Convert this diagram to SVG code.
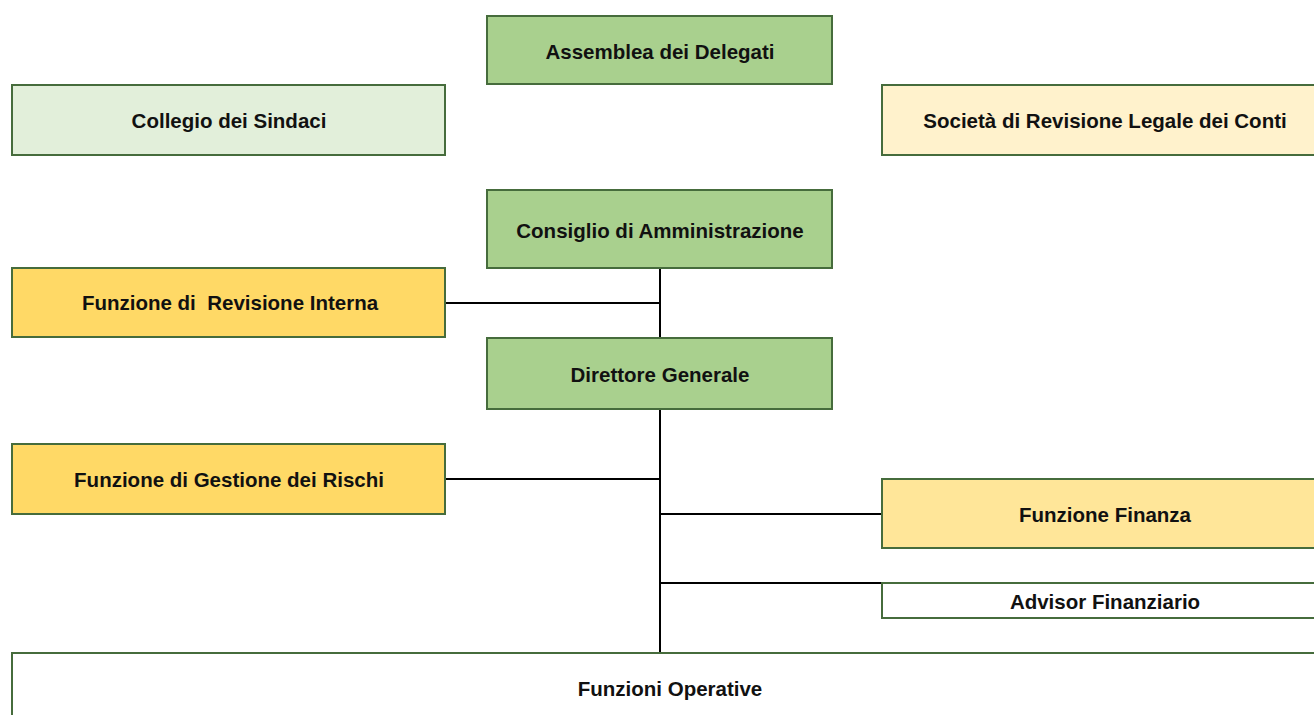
<svg xmlns="http://www.w3.org/2000/svg" width="1314" height="715" viewBox="0 0 1314 715">
<style>
.box{stroke:#466c3c;stroke-width:2}
.lbl{font-family:"Liberation Sans",Arial,sans-serif;font-weight:bold;font-size:20.5px;fill:#111;text-anchor:middle}
.conn{stroke:#000;stroke-width:2;fill:none}
.g1{fill:#a9d08e}.g2{fill:#e2efda}.y1{fill:#ffd966}.y2{fill:#ffe699}.y3{fill:#fff2cc}.w{fill:#fff}
</style>
<rect width="1314" height="715" fill="#fff"/>
<g id="connectors">
<line class="conn" x1="660" y1="268" x2="660" y2="338"/>
<line class="conn" x1="660" y1="409" x2="660" y2="653"/>
<line class="conn" x1="445" y1="303" x2="660" y2="303"/>
<line class="conn" x1="445" y1="479" x2="660" y2="479"/>
<line class="conn" x1="660" y1="514" x2="882" y2="514"/>
<line class="conn" x1="660" y1="583" x2="882" y2="583"/>
</g>
<g id="assemblea"><rect class="box g1" x="487" y="16" width="345" height="68"/><text class="lbl" x="660" y="59">Assemblea dei Delegati</text></g>
<g id="collegio"><rect class="box g2" x="12" y="85" width="433" height="70"/><text class="lbl" x="229" y="128">Collegio dei Sindaci</text></g>
<g id="societa"><rect class="box y3" x="882" y="85" width="445" height="70"/><text class="lbl" x="1105" y="128">Società di Revisione Legale dei Conti</text></g>
<g id="consiglio"><rect class="box g1" x="487" y="190" width="345" height="78"/><text class="lbl" x="660" y="238">Consiglio di Amministrazione</text></g>
<g id="revisione"><rect class="box y1" x="12" y="268" width="433" height="69"/><text class="lbl" x="230" y="310" xml:space="preserve">Funzione di  Revisione Interna</text></g>
<g id="direttore"><rect class="box g1" x="487" y="338" width="345" height="71"/><text class="lbl" x="660" y="382">Direttore Generale</text></g>
<g id="rischi"><rect class="box y1" x="12" y="444" width="433" height="70"/><text class="lbl" x="229" y="487">Funzione di Gestione dei Rischi</text></g>
<g id="finanza"><rect class="box y2" x="882" y="479" width="445" height="69"/><text class="lbl" x="1105" y="522">Funzione Finanza</text></g>
<g id="advisor"><rect class="box w" x="882" y="583" width="445" height="35"/><text class="lbl" x="1105" y="609">Advisor Finanziario</text></g>
<g id="operative"><rect class="box w" x="12" y="653" width="1317" height="80"/><text class="lbl" x="670" y="696">Funzioni Operative</text></g>
</svg>
